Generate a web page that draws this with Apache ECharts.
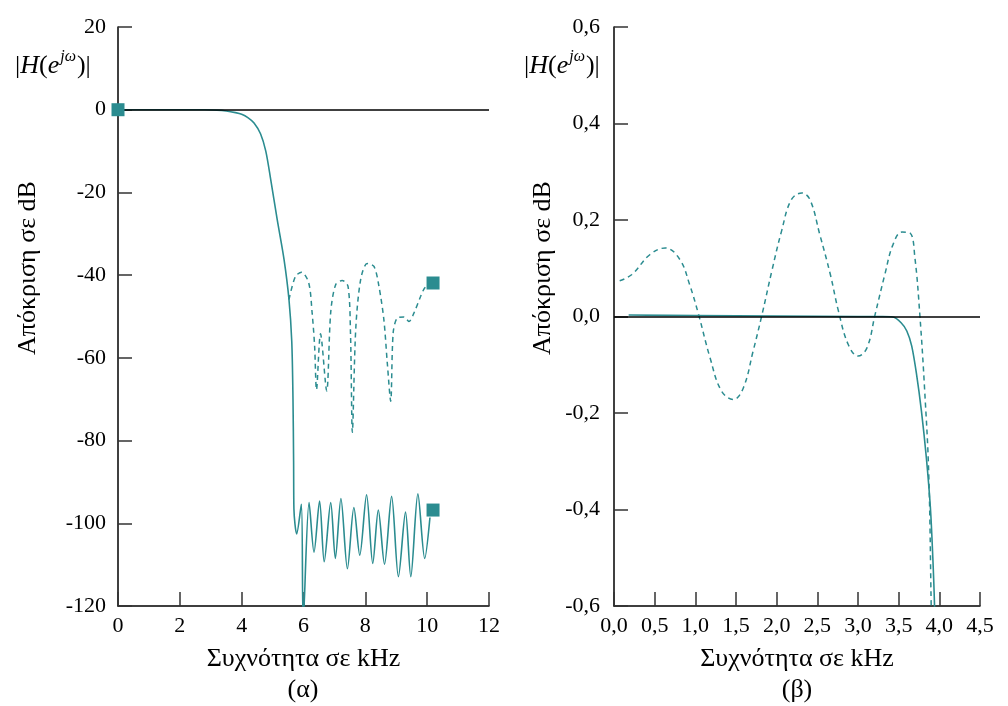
<!DOCTYPE html>
<html>
<head>
<meta charset="utf-8">
<script src="https://cdn.jsdelivr.net/npm/echarts@6/dist/echarts.min.js"></script>
<style>
html,body{margin:0;padding:0;background:#fff;}
#c{width:1008px;height:706px;}
</style>
</head>
<body>
<div id="c"></div>
<script>
// ---- data (frequency kHz, response dB) ----
var leftSolid = [
  [0,0],[1,0],[2,0],[2.8,0],[3.2,-0.1],[3.5,-0.3],[3.8,-0.7],[4.0,-1.1],[4.2,-1.9],[4.4,-3.2],
  [4.61,-5.8],[4.78,-10],[4.94,-16.9],[5.15,-26.6],[5.37,-36.2],[5.53,-45.9],[5.62,-56],
  [5.66,-70],[5.68,-85],[5.69,-96.5],[5.78,-102.6],[5.93,-95.4],[5.99,-124],[6.18,-95],
  [6.34,-107],[6.52,-94.6],[6.67,-109.3],[6.88,-95],[7.03,-108.5],[7.21,-94],[7.42,-111],
  [7.63,-96.2],[7.82,-107.7],[8.04,-93.1],[8.24,-109.7],[8.42,-96.8],[8.62,-109.9],
  [8.85,-93.5],[9.07,-112.9],[9.30,-97.3],[9.47,-112.9],[9.70,-92.9],[9.92,-108.5],[10.09,-98.6]
];
var leftDashed = [
  [5.53,-45.9],[5.74,-40.3],[5.94,-39.3],[6.17,-41.9],[6.28,-49.2],[6.36,-57.2],[6.42,-67.7],
  [6.55,-54.2],[6.75,-68],[6.88,-49],[7.04,-42.3],[7.25,-41.3],[7.44,-42.7],[7.52,-54],
  [7.58,-78],[7.69,-53],[7.85,-41],[8.06,-37.2],[8.28,-37.9],[8.44,-42.7],[8.6,-50.8],
  [8.71,-61.2],[8.82,-70.5],[8.9,-54],[9.03,-50.4],[9.25,-50.1],[9.41,-51.2],[9.57,-49.2],
  [9.79,-45.1],[9.92,-43.1],[10.1,-41.9]
];
var leftMarkers = [[0,0],[10.19,-41.9],[10.19,-96.8]];

var rightSolid = [
  [0.18,0.003],[1,0.002],[2,0.001],[3,0.0],[3.3,0.0],[3.43,-0.001],[3.53,-0.013],[3.6,-0.03],
  [3.66,-0.061],[3.72,-0.12],[3.78,-0.196],[3.84,-0.292],[3.89,-0.396],[3.92,-0.5],[3.94,-0.594],[3.95,-0.7]
];
var rightDashed = [
  [0.07,0.074],[0.22,0.087],[0.44,0.128],[0.63,0.142],[0.81,0.118],[0.93,0.066],[1.04,0.004],
  [1.18,-0.085],[1.32,-0.154],[1.47,-0.172],[1.59,-0.148],[1.71,-0.072],[1.82,0.004],[1.94,0.094],
  [2.06,0.177],[2.18,0.242],[2.31,0.256],[2.41,0.242],[2.53,0.170],[2.66,0.087],[2.76,0.011],
  [2.88,-0.058],[3.00,-0.082],[3.11,-0.065],[3.21,0.004],[3.33,0.087],[3.43,0.149],[3.54,0.175],
  [3.64,0.173],[3.70,0.121],[3.76,0.004],[3.82,-0.154],[3.87,-0.327],[3.90,-0.6],[3.91,-0.7]
];

var leftXRange = [0, 12, 2];
var leftYRange = [-120, 20, 20];
var rightXRange = [0, 4.5, 0.5];
var rightYRange = [-0.6, 0.6, 0.2];

var xName = 'Συχνότητα σε kHz';
var yName = 'Απόκριση σε dB';
var panelTitles = ['(α)', '(β)'];

// ---- chart ----
var TEAL = '#2b8c90';
var FONT = '"Liberation Serif", "DejaVu Serif", serif';

function comma(v) {
  if (Math.abs(v) < 1e-9) return '0,0';
  return v.toFixed(1).replace('.', ',');
}

function xAxis(idx, r, fmt) {
  return {
    type: 'value', gridIndex: idx, min: r[0], max: r[1], interval: r[2],
    name: xName, nameLocation: 'middle', nameGap: 40,
    nameTextStyle: {fontFamily: FONT, fontSize: 26, color: '#000'},
    axisLine: {onZero: false, lineStyle: {color: '#000', width: 1.5}},
    axisTick: {inside: true, length: 14, lineStyle: {color: '#333', width: 1.5}},
    axisLabel: {fontFamily: FONT, fontSize: 22, color: '#000', margin: 9, formatter: fmt},
    splitLine: {show: false}
  };
}
function yAxis(idx, r, fmt, margin) {
  return {
    type: 'value', gridIndex: idx, min: r[0], max: r[1], interval: r[2],
    axisLine: {onZero: false, lineStyle: {color: '#000', width: 1.5}},
    axisTick: {inside: true, length: 14, lineStyle: {color: '#333', width: 1.5}},
    axisLabel: {fontFamily: FONT, fontSize: 22, color: '#000', margin: margin, formatter: fmt},
    splitLine: {show: false}
  };
}
var zeroMark = {
  silent: true, symbol: 'none', label: {show: false},
  lineStyle: {color: '#000', type: 'solid', width: 1.5},
  data: [{yAxis: 0}]
};

function hLabel(x) {
  return {
    type: 'text', x: x, y: 49,
    style: {
      text: '{n||}{i|H}{n|(}{i|e}{s|jω}{n|)|}',
      fill: '#000',
      font: '26px ' + FONT,
      rich: {
        n: {fontFamily: FONT, fontSize: 26, fill: '#000', lineHeight: 30, verticalAlign: 'bottom'},
        i: {fontFamily: FONT, fontSize: 26, fontStyle: 'italic', fill: '#000', lineHeight: 30, verticalAlign: 'bottom'},
        s: {fontFamily: FONT, fontSize: 16, fontStyle: 'italic', fill: '#000', lineHeight: 30, verticalAlign: 'top', padding: [0, 1, 0, 1]}
      }
    }
  };
}
function vText(x, y, t) {
  return {
    type: 'text', x: x, y: y, rotation: Math.PI / 2,
    style: {text: t, fill: '#000', font: '26px ' + FONT, align: 'center', verticalAlign: 'middle'}
  };
}
function cText(x, y, t) {
  return {
    type: 'text', x: x, y: y,
    style: {text: t, fill: '#000', font: '26px ' + FONT, align: 'center', verticalAlign: 'middle'}
  };
}

var chart = echarts.init(document.getElementById('c'), null, {renderer: 'canvas'});
chart.setOption({
  backgroundColor: '#fff',
  animation: false,
  grid: [
    {left: 118, top: 27, width: 371, height: 579},
    {left: 614, top: 27, width: 366, height: 579}
  ],
  xAxis: [
    xAxis(0, leftXRange, function (v) { return String(v); }),
    xAxis(1, rightXRange, comma)
  ],
  yAxis: [
    yAxis(0, leftYRange, function (v) { return String(v); }, 12),
    yAxis(1, rightYRange, comma, 14)
  ],
  series: [
    {type: 'line', xAxisIndex: 0, yAxisIndex: 0, data: leftSolid, showSymbol: false, smooth: 0.3,
     lineStyle: {color: TEAL, width: 1.6}, markLine: zeroMark, z: 2},
    {type: 'line', xAxisIndex: 0, yAxisIndex: 0, data: leftDashed, showSymbol: false, smooth: 0.3,
     lineStyle: {color: TEAL, width: 1.5, type: [5, 4]}, z: 2},
    {type: 'scatter', xAxisIndex: 0, yAxisIndex: 0, data: leftMarkers, symbol: 'rect', symbolSize: 13,
     itemStyle: {color: TEAL, opacity: 1}, z: 5, clip: false},
    {type: 'line', xAxisIndex: 1, yAxisIndex: 1, data: rightSolid, showSymbol: false, smooth: 0.3,
     lineStyle: {color: TEAL, width: 1.6}, markLine: zeroMark, z: 2},
    {type: 'line', xAxisIndex: 1, yAxisIndex: 1, data: rightDashed, showSymbol: false, smooth: 0.4,
     lineStyle: {color: TEAL, width: 1.5, type: [5, 4]}, z: 2}
  ],
  graphic: [
    hLabel(15), hLabel(524),
    vText(28, 268, yName), vText(543, 268, yName),
    cText(303, 690, panelTitles[0]), cText(797, 690, panelTitles[1])
  ]
});
</script>
</body>
</html>
